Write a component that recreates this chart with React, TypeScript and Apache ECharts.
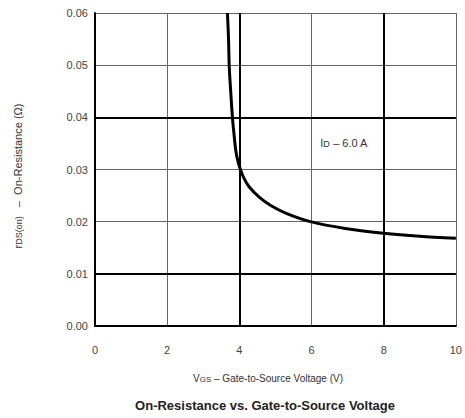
import React, { useEffect, useRef } from "react";
import * as echarts from "echarts";

const vgs = [3.67, 3.7, 3.72, 3.76, 3.81, 3.84, 3.9, 3.96, 4.02, 4.13, 4.27, 4.55, 4.87, 5.3, 5.97, 6.93, 7.99, 9.0, 10];
const rds = [0.06, 0.055, 0.0497, 0.045, 0.0398, 0.0376, 0.0337, 0.0316, 0.0302, 0.0283, 0.0267, 0.0247, 0.0231, 0.0216, 0.02, 0.0187, 0.0178, 0.0172, 0.0168];
const yTicks = [0, 0.01, 0.02, 0.03, 0.04, 0.05, 0.06];
const xTicks = [0, 2, 4, 6, 8, 10];
const heavyY = [0.04, 0.01];
const heavyX = [4, 8];

const FONT = "Liberation Sans, Arial, sans-serif";

export default function App() {
  const ref = useRef<HTMLDivElement>(null);
  useEffect(() => {
    if (!ref.current) return;
    const chart = echarts.init(ref.current, undefined, { renderer: "svg" });
    chart.setOption({
      animation: false,
      backgroundColor: "#ffffff",
      grid: { left: 95, right: 7, top: 13, bottom: 92 },
      xAxis: {
        type: "value",
        min: xTicks[0],
        max: xTicks[xTicks.length - 1],
        interval: 2,
        axisLine: { show: true, lineStyle: { color: "#000", width: 2 } },
        axisTick: { show: false },
        axisLabel: { color: "#444", fontSize: 11, fontFamily: FONT, margin: 18 },
        splitLine: { show: true, lineStyle: { color: "#666", width: 1 } },
      },
      yAxis: {
        type: "value",
        min: yTicks[0],
        max: yTicks[yTicks.length - 1],
        interval: 0.01,
        axisLine: { show: true, lineStyle: { color: "#000", width: 2 } },
        axisTick: { show: false },
        axisLabel: {
          color: "#444",
          fontSize: 11,
          fontFamily: FONT,
          margin: 7,
          formatter: (v: number) => v.toFixed(2),
        },
        splitLine: { show: true, lineStyle: { color: "#666", width: 1 } },
      },
      series: [
        {
          type: "line",
          data: vgs.map((v, i) => [v, rds[i]]),
          smooth: 0.3,
          showSymbol: false,
          lineStyle: { color: "#000", width: 3 },
          silent: true,
          z: 5,
          markLine: {
            silent: true,
            symbol: "none",
            label: { show: false },
            lineStyle: { color: "#000", width: 2, type: "solid" },
            data: [
              ...heavyY.map((y) => ({ yAxis: y })),
              ...heavyX.map((x) => ({ xAxis: x })),
            ],
          },
          markPoint: {
            silent: true,
            symbol: "rect",
            symbolSize: 0,
            data: [{ coord: [6.9, 0.0354] }],
            label: {
              show: true,
              position: "inside",
              formatter: "{a|I}{s|D}{a| – 6.0 A}",
              backgroundColor: "#fff",
              padding: [4, 3, 4, 3],
              rich: {
                a: { fontSize: 11, color: "#333", fontFamily: FONT, lineHeight: 14, verticalAlign: "bottom" },
                s: { fontSize: 9, color: "#333", fontFamily: FONT, lineHeight: 12, verticalAlign: "bottom" },
              },
            },
          },
        },
      ],
      graphic: [
        {
          type: "text",
          x: 268,
          y: 376,
          style: {
            text: "{s|V}{t|GS}{a| – Gate-to-Source Voltage (V)}",
            align: "center",
            verticalAlign: "middle",
            rich: {
              s: { fontSize: 10, fill: "#333", fontFamily: FONT, lineHeight: 14, verticalAlign: "bottom" },
              t: { fontSize: 8, fill: "#333", fontFamily: FONT, lineHeight: 12, verticalAlign: "bottom" },
              a: { fontSize: 10, fill: "#333", fontFamily: FONT, lineHeight: 14, verticalAlign: "bottom" },
            },
          },
        },
        {
          type: "text",
          x: 265,
          y: 405,
          style: {
            text: "On-Resistance vs. Gate-to-Source Voltage",
            align: "center",
            verticalAlign: "middle",
            fontSize: 13,
            fontWeight: "bold",
            fill: "#222",
            fontFamily: FONT,
          },
        },
        {
          type: "text",
          x: 16,
          y: 176,
          rotation: Math.PI / 2,
          style: {
            text: "{a|r}{s|DS(on)}{a|   –  On-Resistance (Ω)}",
            align: "center",
            verticalAlign: "middle",
            rich: {
              a: { fontSize: 11, fill: "#333", fontFamily: FONT, lineHeight: 14, verticalAlign: "bottom" },
              s: { fontSize: 9, fill: "#333", fontFamily: FONT, lineHeight: 12, verticalAlign: "bottom" },
            },
          },
        },
      ],
    });
    return () => chart.dispose();
  }, []);
  return (
    <div
      ref={ref}
      style={{ position: "fixed", left: 0, top: 0, width: 465, height: 418 }}
    />
  );
}
